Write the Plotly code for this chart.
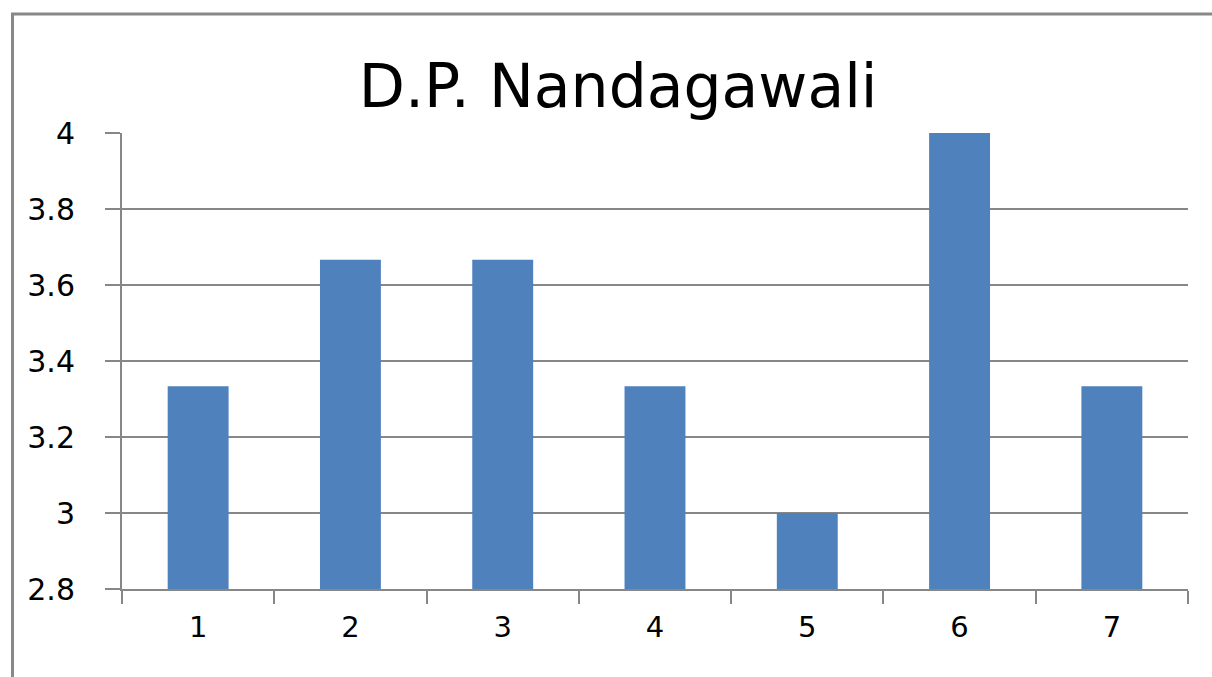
import plotly.graph_objects as go

categories = ["1", "2", "3", "4", "5", "6", "7"]
values = [3.3333, 3.6667, 3.6667, 3.3333, 3.0, 4.0, 3.3333]
title_text = "D.P. Nandagawali"

W, H = 1212, 677
L, R, T, B = 122, 24, 133, 88
pw, ph = W - L - R, H - T - B

def px_x(x):
    return (x - L) / pw

def px_y(y):
    return 1 - (y - T) / ph

grey = "#878787"
font_family = "DejaVu Sans, Open Sans, Arial, sans-serif"

fig = go.Figure()
fig.add_trace(go.Bar(x=categories, y=values, marker=dict(color="#4F81BD", line=dict(width=0)),
                     showlegend=False))

fig.update_layout(
    width=W, height=H,
    margin=dict(l=L, r=R, t=T, b=B),
    paper_bgcolor="white", plot_bgcolor="white",
    bargap=0.6,
    title=dict(text=title_text, x=0.51, xanchor="center", y=1 - 86 / H, yanchor="middle",
               font=dict(family=font_family, size=60, color="black")),
    font=dict(family=font_family, color="black"),
    xaxis=dict(type="category", showgrid=False, showline=True, linecolor=grey, linewidth=2,
               ticks="outside", tickson="boundaries", ticklen=13, tickcolor=grey, tickwidth=2,
               tickfont=dict(size=29, color="black"), ticklabelstandoff=11),
    yaxis=dict(range=[2.8, 4], dtick=0.2, tick0=2.8, showgrid=True, gridcolor=grey, gridwidth=2,
               showline=True, linecolor=grey, linewidth=2, zeroline=False,
               ticks="outside", ticklen=15, tickcolor=grey, tickwidth=2,
               tickfont=dict(size=30, color="black"), ticklabelstandoff=24),
    shapes=[
        dict(type="line", xref="paper", yref="paper", x0=px_x(12.5), x1=px_x(12.5),
             y0=px_y(13), y1=px_y(H + 5), line=dict(color="#888888", width=3)),
        dict(type="line", xref="paper", yref="paper", x0=px_x(11), x1=px_x(W + 5),
             y0=px_y(14), y1=px_y(14), line=dict(color="#888888", width=3)),
    ],
)

fig.write_html("out.html", config={"displayModeBar": False},
               post_script="document.body.style.margin='0';document.body.style.overflow='hidden';")
